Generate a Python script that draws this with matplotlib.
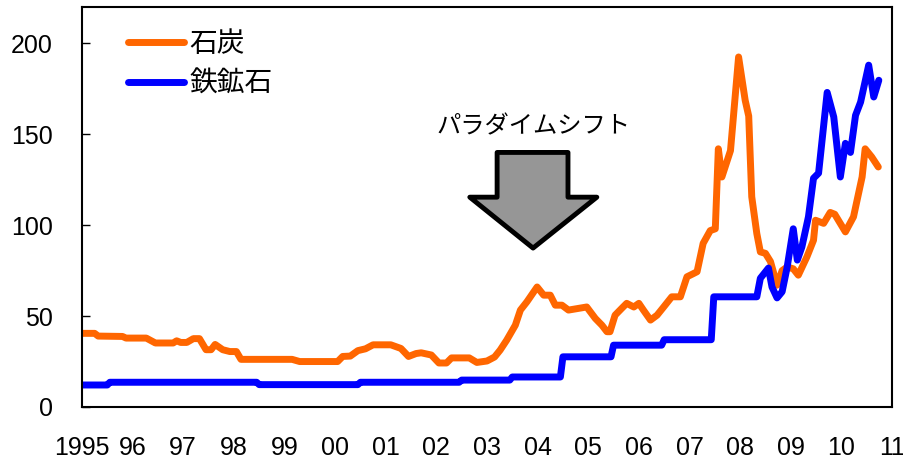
import matplotlib
matplotlib.use("Agg")
import matplotlib.pyplot as plt
from matplotlib.patches import Polygon

plt.rcParams['font.family'] = ['Liberation Sans', 'Noto Sans CJK JP', 'DejaVu Sans']

# coal price index
coal_years = [
    1995.0, 1995.25, 1995.32, 1995.8, 1995.87, 1996.27, 1996.45, 1996.8, 1996.87, 1996.95,
    1997.07, 1997.2, 1997.32, 1997.45, 1997.55, 1997.63, 1997.78, 1997.92, 1998.05, 1998.14,
    1999.15, 1999.3, 2000.05, 2000.15, 2000.3, 2000.45, 2000.6, 2000.75, 2001.1, 2001.3,
    2001.45, 2001.6, 2001.7, 2001.9, 2002.05, 2002.2, 2002.3, 2002.65, 2002.8, 2003.0,
    2003.15, 2003.26, 2003.39, 2003.56, 2003.66, 2003.79, 2003.99, 2004.12, 2004.25, 2004.35,
    2004.48, 2004.61, 2004.97, 2005.14, 2005.27, 2005.37, 2005.43, 2005.53, 2005.66, 2005.76,
    2005.9, 2006.0, 2006.09, 2006.23, 2006.36, 2006.49, 2006.65, 2006.82, 2006.95, 2007.08,
    2007.15, 2007.27, 2007.41, 2007.51, 2007.57, 2007.64, 2007.81, 2007.97, 2008.1, 2008.17,
    2008.23, 2008.33, 2008.4, 2008.5, 2008.6, 2008.73, 2008.83, 2008.93, 2009.05, 2009.15,
    2009.32, 2009.45, 2009.49, 2009.65, 2009.78, 2009.87, 2010.08, 2010.24, 2010.41, 2010.47,
    2010.6, 2010.73,
]
coal_values = [
    40.5, 40.5, 39.0, 38.8, 37.9, 37.9, 35.2, 35.2, 36.4, 35.5,
    35.5, 37.6, 37.6, 31.5, 31.5, 34.4, 31.5, 30.5, 30.5, 26.2,
    26.2, 25.0, 25.0, 27.8, 28.0, 31.0, 32.0, 34.2, 34.2, 32.2,
    27.8, 29.4, 29.8, 28.6, 24.2, 24.2, 27.0, 27.0, 24.5, 25.3,
    27.5, 31.3, 36.8, 45.0, 53.3, 57.9, 66.0, 61.5, 61.5, 56.0,
    56.0, 53.3, 55.0, 48.7, 45.0, 41.4, 41.4, 50.5, 54.2, 57.0,
    55.0, 57.0, 53.3, 47.8, 50.5, 55.0, 60.6, 60.6, 71.6, 73.4,
    74.4, 90.0, 97.0, 98.0, 142.0, 126.5, 141.0, 192.5, 168.7, 160.0,
    115.6, 95.4, 85.3, 84.5, 80.0, 67.0, 75.0, 77.0, 76.0, 72.5,
    82.6, 91.7, 102.7, 101.0, 107.0, 106.0, 96.3, 104.6, 126.5, 142.0,
    137.5, 132.0,
]

# iron ore price index (yearly contract steps, then monthly)
ore_years = [
    1995.0, 1995.5, 1995.55, 1998.45, 1998.5, 2000.45, 2000.5, 2002.45, 2002.5, 2003.45,
    2003.5, 2004.45, 2004.5, 2005.45, 2005.5, 2006.45, 2006.5, 2007.43, 2007.48, 2008.33,
    2008.4, 2008.56, 2008.63, 2008.73, 2008.83, 2008.93, 2009.05, 2009.13, 2009.22, 2009.35,
    2009.45, 2009.55, 2009.72, 2009.85, 2009.98, 2010.08, 2010.18, 2010.28, 2010.38, 2010.54,
    2010.64, 2010.74,
]
ore_values = [
    12.1, 12.1, 13.6, 13.6, 12.3, 12.3, 13.6, 13.6, 14.8, 14.8,
    16.5, 16.5, 27.6, 27.6, 34.0, 34.0, 37.0, 37.0, 60.6, 60.6,
    70.8, 76.4, 66.0, 60.0, 63.4, 77.0, 98.0, 80.8, 88.0, 104.6,
    125.8, 128.6, 173.0, 159.5, 126.5, 145.0, 140.0, 160.4, 167.7, 188.0,
    170.5, 179.7,
]

year_ticks = list(range(1995, 2012))
year_labels = ["1995", "96", "97", "98", "99", "00", "01", "02", "03", "04",
               "05", "06", "07", "08", "09", "10", "11"]
value_ticks = [0, 50, 100, 150, 200]

fig = plt.figure(figsize=(9.04, 4.59), dpi=100)
ax = fig.add_axes([0.0907, 0.1133, 0.896, 0.8715])

ax.plot(coal_years, coal_values, color="#FF6600", linewidth=5, solid_joinstyle="round",
        solid_capstyle="round", label="石炭")
ax.plot(ore_years, ore_values, color="#0000FF", linewidth=5, solid_joinstyle="round",
        solid_capstyle="round", label="鉄鉱石")

ax.set_xlim(1995, 2011)
ax.set_ylim(0, 220)
ax.set_xticks(year_ticks)
ax.set_xticklabels(year_labels)
ax.set_yticks(value_ticks)
ax.tick_params(axis="x", length=0, pad=21, labelsize=18)
ax.tick_params(axis="y", direction="in", length=6, width=1, pad=21, labelsize=18)
for s in ax.spines.values():
    s.set_linewidth(1.5)

# block arrow "paradigm shift"
arrow = Polygon([(2003.2, 140), (2004.6, 140), (2004.6, 115.4), (2005.17, 115.4),
                 (2003.91, 87.4), (2002.66, 115.4), (2003.2, 115.4)],
                closed=True, facecolor="#969696", edgecolor="black", linewidth=3.5,
                joinstyle="round")
ax.add_patch(arrow)
ax.text(2003.91, 153.8, "パラダイムシフト", ha="center", va="center", fontsize=17.5)

fig.legend(loc="upper left", bbox_to_anchor=(0.1416, 0.93), frameon=False,
           fontsize=20, handlelength=2.0, handletextpad=0.2, borderpad=0,
           borderaxespad=0, labelspacing=0.5)

fig.savefig("out.png", dpi=100)
